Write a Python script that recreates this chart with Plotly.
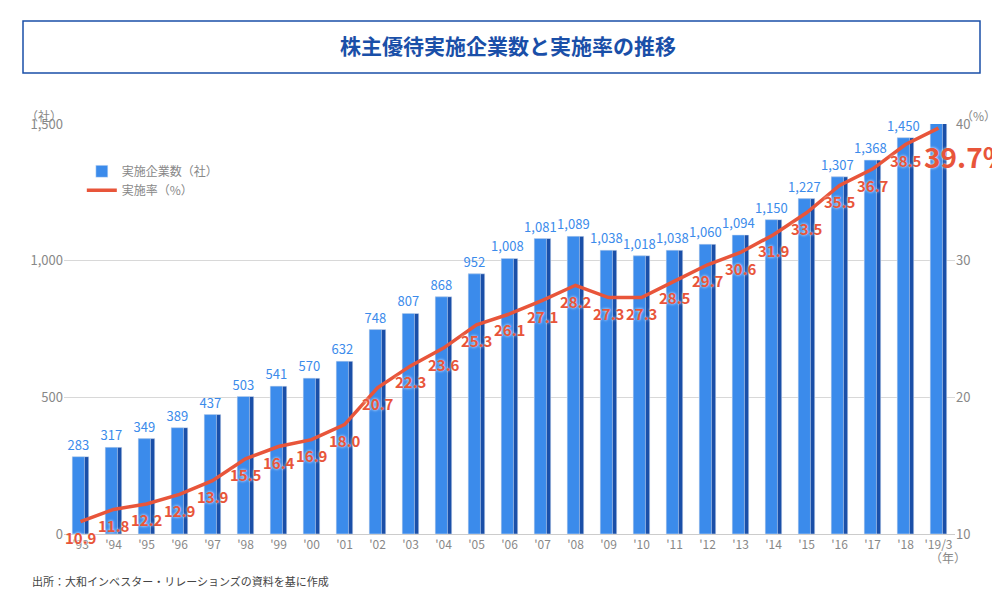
import plotly.graph_objects as go

years = ["'93","'94","'95","'96","'97","'98","'99","'00","'01","'02","'03","'04","'05","'06","'07","'08","'09","'10","'11","'12","'13","'14","'15","'16","'17","'18","'19/3"]
companies = [283,317,349,389,437,503,541,570,632,748,807,868,952,1008,1081,1089,1038,1018,1038,1060,1094,1150,1227,1307,1368,1450,1507]
rates = [10.9,11.8,12.2,12.9,13.9,15.5,16.4,16.9,18.0,20.7,22.3,23.6,25.3,26.1,27.1,28.2,27.3,27.3,28.5,29.7,30.6,31.9,33.5,35.5,36.7,38.5,39.7]

F = "Noto Sans CJK JP"
RED = "#e8553a"
fig = go.Figure()
fig.add_bar(x=years, y=companies, width=0.5, offset=-0.25, marker_color="#1a4fa8",
            showlegend=False, hoverinfo="skip")
fig.add_bar(x=years, y=companies, width=0.37, offset=-0.25, marker_color="#3b8beb",
            name="実施企業数（社）", text=[f"{v:,}" for v in companies], textposition="outside",
            constraintext="none", textangle=0,
            textfont=dict(color="#3b8beb", size=13, family=F), cliponaxis=False)
fig.add_scatter(x=years, y=rates, yaxis="y2", mode="lines", name="実施率（%）",
                line=dict(color=RED, width=3.5))
for yr, r in zip(years[:-1], rates[:-1]):
    fig.add_annotation(x=yr, y=r, yref="y2", text=f"{r:.1f}", showarrow=False, yshift=-16,
                       font=dict(color=RED, size=15, family=F, weight="bold",
                                 shadow="0px 0px 3px white"))
fig.add_annotation(x=years[-1], y=rates[-1], yref="y2", text="39.7%", showarrow=False,
                   xshift=28, yshift=-28, font=dict(color=RED, size=28, family=F, weight="bold",
                   shadow="0px 0px 3px white"))

fig.update_layout(
    width=1000, height=607, plot_bgcolor="white", paper_bgcolor="white",
    margin=dict(l=56, r=53, t=116, b=81),
    barmode="overlay", uniformtext=dict(mode=False),
    font=dict(family=F, color="#777", size=13),
    xaxis=dict(type="category", range=[-0.5, 26.5], showgrid=False, ticks="",
               tickfont=dict(size=12, color="#888"), showline=True, linecolor="#ccc"),
    yaxis=dict(range=[0, 1500], tickvals=[0,500,1000,1500], tickformat=",",
               gridcolor="#d8d8d8", zeroline=False, tickfont=dict(size=13, color="#888")),
    yaxis2=dict(range=[10, 40], tickvals=[10,20,30,40], overlaying="y", side="right",
                showgrid=False, zeroline=False, tickfont=dict(size=13, color="#888")),
    legend=dict(x=0.02, y=0.92, xanchor="left", yanchor="top", bgcolor="rgba(0,0,0,0)",
                font=dict(size=12, color="#888"), traceorder="normal"),
    title=dict(text="<b>株主優待実施企業数と実施率の推移</b>", x=0.5, y=1 - 39/607, xanchor="center",
               yanchor="middle", font=dict(size=21, color="#1a4fa8", family=F)),
)

def py(p):
    return (526 - p) / 410
def px(p):
    return (p - 56) / 891

fig.add_shape(type="rect", xref="paper", yref="paper",
              x0=px(15), x1=px(972), y0=py(65), y1=py(13),
              line=dict(color="#1a4fa8", width=1.5))
fig.add_annotation(xref="paper", yref="paper", x=px(16), y=py(97), text="（社）",
                   showarrow=False, xanchor="left", font=dict(size=12, color="#888"))
fig.add_annotation(xref="paper", yref="paper", x=px(970), y=py(97), text="（%）",
                   showarrow=False, xanchor="center", font=dict(size=12, color="#888"))
fig.add_annotation(xref="paper", yref="paper", x=px(940), y=py(560), text="（年）",
                   showarrow=False, xanchor="center", font=dict(size=12, color="#888"))
fig.add_annotation(xref="paper", yref="paper", x=px(22), y=py(583),
                   text="出所：大和インベスター・リレーションズの資料を基に作成",
                   showarrow=False, xanchor="left", font=dict(size=11, color="#444"))
fig.write_html("out.html")
